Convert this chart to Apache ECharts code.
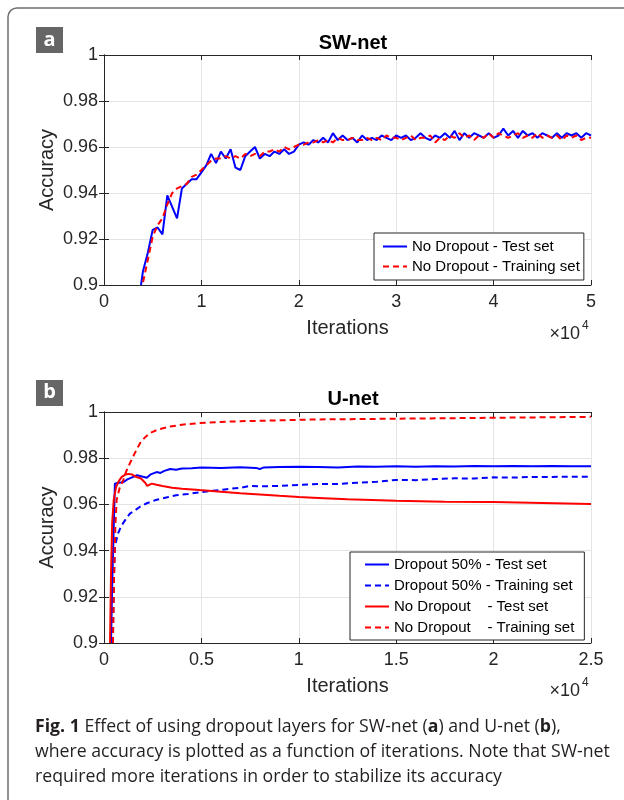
<!DOCTYPE html>
<html><head><meta charset="utf-8">
<script src="https://cdn.jsdelivr.net/npm/echarts@6/dist/echarts.min.js"></script>
<style>html,body{margin:0;padding:0;background:#fff}#c{width:624px;height:800px}</style>
</head><body><div id="c"></div>
<script>
// ---------- Panel a: SW-net (x in units of 10^4 iterations) ----------
const swX = [0.38,0.40,0.45,0.50,0.55,0.60,0.65,0.70,0.75,0.80,0.85,0.90,0.95,1.00,1.05,1.10,1.15,1.20,1.25,1.30,1.35,1.40,1.45,1.50,1.55,1.60,1.65,1.70,1.75,1.80,1.85,1.90,1.95,2.00,2.05,2.10,2.15,2.20,2.25,2.30,2.35,2.40,2.45,2.50,2.55,2.60,2.65,2.70,2.75,2.80,2.85,2.90,2.95,3.00,3.05,3.10,3.15,3.20,3.25,3.30,3.35,3.40,3.45,3.50,3.55,3.60,3.65,3.70,3.75,3.80,3.85,3.90,3.95,4.00,4.05,4.10,4.15,4.20,4.25,4.30,4.35,4.40,4.45,4.50,4.55,4.60,4.65,4.70,4.75,4.80,4.85,4.90,4.95,5.00];
const swTest = [0.900,0.906,0.914,0.924,0.925,0.922,0.939,0.934,0.929,0.942,0.944,0.946,0.946,0.949,0.952,0.957,0.953,0.958,0.955,0.959,0.951,0.950,0.956,0.958,0.960,0.955,0.957,0.956,0.958,0.957,0.959,0.957,0.958,0.961,0.962,0.961,0.963,0.962,0.964,0.962,0.966,0.963,0.965,0.963,0.964,0.962,0.965,0.963,0.964,0.963,0.965,0.964,0.963,0.965,0.964,0.965,0.963,0.964,0.966,0.964,0.963,0.965,0.964,0.966,0.964,0.967,0.963,0.966,0.964,0.966,0.965,0.964,0.966,0.964,0.965,0.968,0.965,0.967,0.964,0.967,0.965,0.966,0.964,0.966,0.965,0.964,0.966,0.964,0.966,0.965,0.966,0.964,0.966,0.965];
const swTrain = [0.897,0.901,0.911,0.921,0.926,0.929,0.935,0.940,0.942,0.943,0.944,0.947,0.948,0.950,0.952,0.954,0.955,0.955,0.956,0.955,0.956,0.955,0.957,0.956,0.957,0.956,0.958,0.958,0.959,0.958,0.960,0.959,0.960,0.961,0.961,0.962,0.962,0.963,0.962,0.963,0.962,0.964,0.963,0.963,0.964,0.963,0.963,0.964,0.963,0.964,0.963,0.965,0.964,0.964,0.963,0.964,0.965,0.963,0.964,0.964,0.965,0.962,0.964,0.963,0.965,0.964,0.966,0.964,0.965,0.963,0.965,0.964,0.966,0.964,0.966,0.965,0.964,0.965,0.966,0.964,0.965,0.964,0.966,0.964,0.965,0.964,0.965,0.963,0.965,0.964,0.965,0.963,0.964,0.964];

// ---------- Panel b: U-net ----------
const dropTestX = [0.036,0.042,0.050,0.056,0.073,0.099,0.120,0.150,0.170,0.190,0.220,0.240,0.270,0.290,0.310,0.340,0.370,0.400,0.450,0.500,0.600,0.700,0.780,0.800,0.820,0.900,1.000,1.100,1.200,1.300,1.400,1.500,1.600,1.700,1.800,1.900,2.000,2.100,2.200,2.300,2.400,2.500];
const dropTestY = [0.900,0.925,0.950,0.9690,0.9694,0.9696,0.9708,0.9719,0.9726,0.9722,0.9715,0.9730,0.9740,0.9736,0.9745,0.9753,0.9750,0.9755,0.9757,0.9760,0.9758,0.9761,0.9758,0.9753,0.9760,0.9762,0.9763,0.9762,0.9760,0.9764,0.9763,0.9765,0.9763,0.9765,0.9764,0.9766,0.9765,0.9766,0.9765,0.9766,0.9765,0.9765];
const dropTrainX = [0.045,0.050,0.056,0.065,0.073,0.085,0.099,0.115,0.133,0.160,0.185,0.220,0.270,0.320,0.370,0.430,0.490,0.550,0.620,0.700,0.750,0.800,0.900,1.000,1.100,1.200,1.300,1.400,1.500,1.600,1.700,1.800,1.900,2.000,2.100,2.200,2.300,2.400,2.500];
const dropTrainY = [0.900,0.925,0.9417,0.9450,0.9476,0.9500,0.9520,0.9540,0.9560,0.9575,0.9590,0.9605,0.9620,0.9630,0.9640,0.9645,0.9652,0.9658,0.9665,0.9672,0.9680,0.9678,0.9680,0.9684,0.9688,0.9688,0.9694,0.9698,0.9706,0.9705,0.9710,0.9713,0.9712,0.9717,0.9716,0.9719,0.9719,0.9720,0.9720];
const noDropTestX = [0.031,0.036,0.042,0.050,0.062,0.075,0.091,0.108,0.125,0.143,0.160,0.190,0.210,0.222,0.245,0.270,0.300,0.350,0.400,0.490,0.600,0.700,0.800,0.900,1.000,1.100,1.250,1.500,1.750,2.000,2.250,2.500];
const noDropTestY = [0.900,0.930,0.952,0.962,0.9675,0.9700,0.9719,0.9728,0.9732,0.9730,0.9721,0.9712,0.9695,0.9680,0.9690,0.9685,0.9680,0.9672,0.9668,0.9662,0.9655,0.9648,0.9643,0.9637,0.9632,0.9628,0.9622,0.9616,0.9612,0.9610,0.9606,0.9602];
const noDropTrainX = [0.046,0.052,0.058,0.065,0.080,0.099,0.115,0.133,0.160,0.185,0.210,0.236,0.280,0.339,0.400,0.490,0.600,0.700,0.800,1.000,1.110,1.250,1.500,1.750,2.000,2.250,2.500];
const noDropTrainY = [0.900,0.930,0.950,0.962,0.967,0.9706,0.9745,0.9778,0.9825,0.9865,0.9890,0.9909,0.9925,0.9937,0.9945,0.9952,0.9957,0.9960,0.9962,0.9966,0.9968,0.9969,0.9971,0.9973,0.9975,0.9977,0.9979];

const yTicks = ['0.9','0.92','0.94','0.96','0.98','1'];
const xTicksA = ['0','1','2','3','4','5'];
const xTicksB = ['0','0.5','1','1.5','2','2.5'];

const pair = (xs, ys) => xs.map((x, i) => [x, ys[i]]);
const FONT = 'Liberation Sans';
const TXT = '#262626';
const BLUE = '#0000ff', RED = '#ff0000';

function gridAxes(gi, xmax, xint, xLabels) {
  const base = {gridIndex: gi, type: 'value', min: 0, max: xmax, interval: xint};
  const yb = {gridIndex: gi, type: 'value', min: 0.9, max: 1, interval: 0.02};
  const line = {show: true, lineStyle: {color: '#262626', width: 1}};
  const tick = {show: true, inside: true, length: 5, lineStyle: {color: '#262626'}};
  return {
    x: [
      Object.assign({}, base, {position: 'bottom', axisLine: line, axisTick: tick,
        splitLine: {show: true, lineStyle: {color: '#e4e4e4', width: 1}},
        axisLabel: {color: TXT, fontSize: 18, fontFamily: FONT, margin: 8,
          formatter: v => xLabels[Math.round(v / xint)]},
        name: 'Iterations', nameLocation: 'middle', nameGap: 33, nameMoveOverlap: false,
        nameTextStyle: {color: TXT, fontSize: 20, fontFamily: FONT}}),
      Object.assign({}, base, {position: 'top', axisLine: line, axisTick: tick,
        splitLine: {show: false}, axisLabel: {show: false}})
    ],
    y: [
      Object.assign({}, yb, {position: 'left', axisLine: line, axisTick: tick,
        splitLine: {show: true, lineStyle: {color: '#e4e4e4', width: 1}},
        axisLabel: {color: TXT, fontSize: 18, fontFamily: FONT, margin: 6,
          formatter: v => yTicks[Math.round((v - 0.9) / 0.02)]},
        name: 'Accuracy', nameLocation: 'middle', nameGap: 47, nameMoveOverlap: false,
        nameTextStyle: {color: TXT, fontSize: 20, fontFamily: FONT}}),
      Object.assign({}, yb, {position: 'right', axisLine: line, axisTick: tick,
        splitLine: {show: false}, axisLabel: {show: false}})
    ]
  };
}
const A = gridAxes(0, 5, 1, xTicksA), B = gridAxes(1, 2.5, 0.5, xTicksB);

function ser(name, data, color, dashed, xi, yi) {
  return {name, type: 'line', data, xAxisIndex: xi, yAxisIndex: yi,
    symbol: 'none', showSymbol: false, clip: true, animation: false,
    lineStyle: {color, width: 2, type: dashed ? [6, 4] : 'solid'},
    itemStyle: {color}};
}

const legendCommon = {orient: 'vertical', backgroundColor: '#fff',
  borderColor: '#262626', borderWidth: 1, borderRadius: 0,
  itemWidth: 24, itemHeight: 12, itemGap: 5,
  itemStyle: {opacity: 0},
  textStyle: {color: '#000', fontSize: 15, fontFamily: FONT}};

const option = {
  backgroundColor: '#fff',
  animation: false,
  title: [
    {text: 'SW-net', left: 348, top: 28, textAlign: 'center',
      textStyle: {fontSize: 20, fontWeight: 'bold', color: '#000', fontFamily: FONT}},
    {text: 'U-net', left: 348, top: 384, textAlign: 'center',
      textStyle: {fontSize: 20, fontWeight: 'bold', color: '#000', fontFamily: FONT}}
  ],
  grid: [
    {left: 104, top: 55, width: 487, height: 230},
    {left: 104, top: 412, width: 487, height: 231}
  ],
  xAxis: [A.x[0], A.x[1], B.x[0], B.x[1]],
  yAxis: [A.y[0], A.y[1], B.y[0], B.y[1]],
  legend: [
    Object.assign({}, legendCommon, {left: 374, top: 233, padding: [6, 4, 6, 8],
      data: ['No Dropout - Test set', 'No Dropout - Training set']}),
    Object.assign({}, legendCommon, {left: 350, top: 552, padding: [5, 10, 5, 14], itemGap: 6,
      data: ['Dropout 50% - Test set', 'Dropout 50% - Training set',
             'No Dropout    - Test set', 'No Dropout    - Training set']})
  ],
  series: [
    ser('No Dropout - Test set', pair(swX, swTest), BLUE, false, 0, 0),
    ser('No Dropout - Training set', pair(swX, swTrain), RED, true, 0, 0),
    ser('Dropout 50% - Test set', pair(dropTestX, dropTestY), BLUE, false, 2, 2),
    ser('Dropout 50% - Training set', pair(dropTrainX, dropTrainY), BLUE, true, 2, 2),
    ser('No Dropout    - Test set', pair(noDropTestX, noDropTestY), RED, false, 2, 2),
    ser('No Dropout    - Training set', pair(noDropTrainX, noDropTrainY), RED, true, 2, 2)
  ],
  graphic: [
    {type: 'rect', shape: {x: 8, y: 8, width: 800, height: 900, r: 9}, silent: true,
      style: {fill: 'none', stroke: '#6e6e6e', lineWidth: 1.5}},
    {type: 'rect', shape: {x: 36, y: 27, width: 27, height: 26}, style: {fill: '#666666'}},
    {type: 'text', x: 49.5, y: 40, style: {text: 'a', fill: '#fff', font: 'bold 20px "Open Sans"', textAlign: 'center', textVerticalAlign: 'middle'}},
    {type: 'rect', shape: {x: 36, y: 380, width: 27, height: 26}, style: {fill: '#666666'}},
    {type: 'text', x: 49.5, y: 392, style: {text: 'b', fill: '#fff', font: 'bold 20px "Open Sans"', textAlign: 'center', textVerticalAlign: 'middle'}},
    {type: 'text', x: 580, y: 334, style: {text: '\u00d710', fill: TXT, font: '18px "Liberation Sans"', textAlign: 'right', textVerticalAlign: 'middle'}},
    {type: 'text', x: 582, y: 326, style: {text: '4', fill: TXT, font: '12px "Liberation Sans"', textAlign: 'left', textVerticalAlign: 'middle'}},
    {type: 'text', x: 580, y: 691, style: {text: '\u00d710', fill: TXT, font: '18px "Liberation Sans"', textAlign: 'right', textVerticalAlign: 'middle'}},
    {type: 'text', x: 582, y: 683, style: {text: '4', fill: TXT, font: '12px "Liberation Sans"', textAlign: 'left', textVerticalAlign: 'middle'}},
    {type: 'text', x: 35, y: 714, style: {
      text: '{b|Fig. 1} Effect of using dropout layers for SW-net ({b|a}) and U-net ({b|b}),\nwhere accuracy is plotted as a function of iterations. Note that SW-net\nrequired more iterations in order to stabilize its accuracy',
      fill: '#231f20', font: '17.7px "Open Sans"', lineHeight: 25,
      rich: {b: {fontWeight: 'bold', fontSize: 17.7, fontFamily: 'Open Sans', fill: '#231f20', lineHeight: 25}}
    }}
  ]
};
const chart = echarts.init(document.getElementById('c'), null, {renderer: 'canvas'});
chart.setOption(option);
</script></body></html>
